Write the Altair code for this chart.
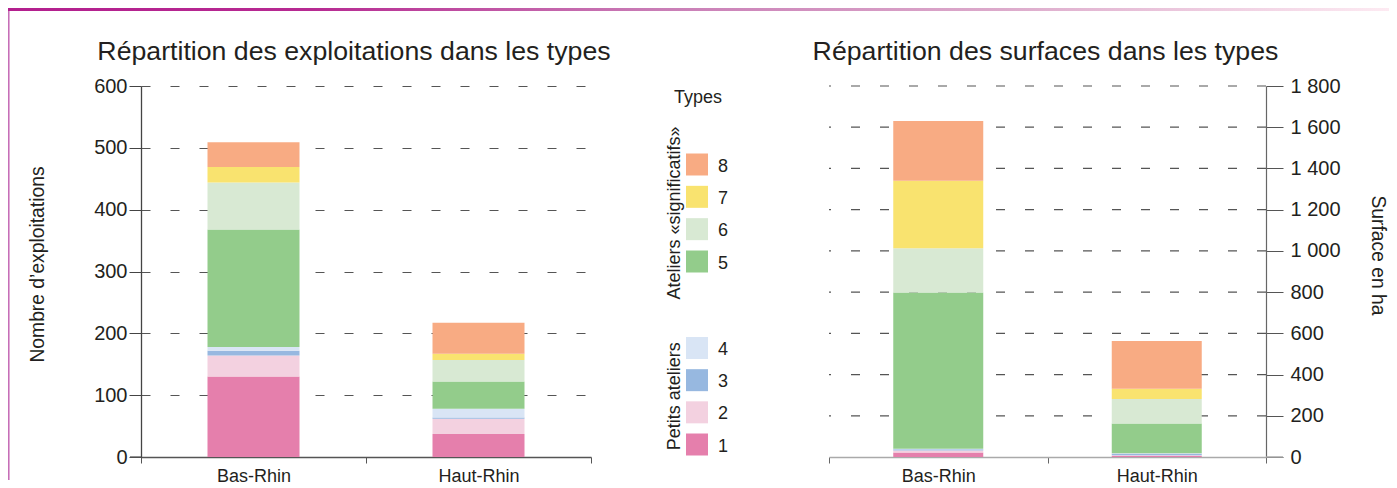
import altair as alt
import pandas as pd

# ---------------- data ----------------
regions = ["Bas-Rhin", "Haut-Rhin"]
types = ["1", "2", "3", "4", "5", "6", "7", "8"]
exploitations_bas = [130, 34, 8, 6, 190, 76, 25, 40]
exploitations_haut = [37, 25, 2, 14, 44, 35, 10, 50]
surfaces_bas = [22, 10, 5, 3, 758, 215, 327, 290]
surfaces_haut = [5, 3, 8, 2, 144, 119, 50, 232]
type_colors = ["#e57fac", "#f3d1e0", "#97b8e0", "#d9e5f5",
               "#93cc8b", "#d8e9d3", "#f9e36f", "#f8ab83"]
group_names = ["Ateliers «significatifs»", "Petits ateliers"]
group_members = [["5", "6", "7", "8"], ["1", "2", "3", "4"]]
legend_title = ["Types"]
title_left = "Répartition des exploitations dans les types"
title_right = "Répartition des surfaces dans les types"
ylabel_left = "Nombre d’exploitations"
ylabel_right = "Surface en ha"
ticks_left = [0, 100, 200, 300, 400, 500, 600]
ticks_right = [0, 200, 400, 600, 800, 1000, 1200, 1400, 1600, 1800]

rows = []
for reg, ex, su in [(regions[0], exploitations_bas, surfaces_bas),
                    (regions[1], exploitations_haut, surfaces_haut)]:
    for t, e, s in zip(types, ex, su):
        rows.append({"region": reg, "type": t, "rank": int(t),
                     "exploitations": e, "surface": s})
df = pd.DataFrame(rows)
legend_df = pd.DataFrame({"type": types, "rank": [int(t) for t in types]})
group_df = pd.DataFrame({
    "name": group_names,
    "mid": [sum(int(t) for t in g) / len(g) for g in group_members]})

FONT = "Liberation Sans"
TXT = "#231f20"
GRID = "#555555"

color_scale = alt.Scale(domain=types, range=type_colors)
x_scale = alt.Scale(domain=regions, paddingInner=0, paddingOuter=0)
deco = pd.DataFrame({"k": [0]})

# ---------------- left chart ----------------
left_bars = alt.Chart(df).mark_bar(size=92).encode(
    x=alt.X("region:N", sort=regions, scale=x_scale,
            axis=alt.Axis(title=None, labelAngle=0, tickBand="extent", tickSize=6,
                          labelPadding=4, labelFontSize=18, domainColor="#555555",
                          tickColor="#555555", domainWidth=1.3, grid=False)),
    y=alt.Y("exploitations:Q", stack="zero",
            scale=alt.Scale(domain=[0, 600], nice=False),
            axis=alt.Axis(values=ticks_left, title=ylabel_left, tickSize=12,
                          labelPadding=2, labelFontSize=20, domainColor="#444444",
                          tickColor="#444444", domainWidth=1.3, grid=True,
                          gridDash=[9, 20], gridColor=GRID, gridWidth=1.2,
                          titleFontSize=19.3, titlePadding=46, titleY=178,
                          titleFontWeight="normal")),
    color=alt.Color("type:N", scale=color_scale, legend=None),
    order=alt.Order("rank:Q", sort="ascending"),
)
left_axis_ext = alt.Chart(deco).mark_rule(color="#555555", strokeWidth=1.3).encode(
    x=alt.value(-11), x2=alt.value(0), y=alt.value(371))
left = alt.layer(left_bars, left_axis_ext).properties(
    width=450, height=371,
    title=alt.TitleParams(title_left, fontSize=26.7, fontWeight="normal", color=TXT,
                          font=FONT, dx=-12, offset=10, anchor="middle"))

# ---------------- legend (with page decoration) ----------------
banner = alt.Chart(deco).mark_rect(
    fill=alt.LinearGradient(
        gradient="linear",
        stops=[alt.GradientStop(color="#b31f8e", offset=0),
               alt.GradientStop(color="#b72a92", offset=0.22),
               alt.GradientStop(color="#c97db6", offset=0.47),
               alt.GradientStop(color="#dcaacb", offset=0.72),
               alt.GradientStop(color="#fdeaf2", offset=1)],
        x1=0, x2=1, y1=0, y2=0)
).encode(x=alt.value(-678), x2=alt.value(703), y=alt.value(-78), y2=alt.value(-75))
frame = alt.Chart(deco).mark_rule(color="#c467b4", strokeWidth=1.5).encode(
    x=alt.value(-677.2), y=alt.value(-75), y2=alt.value(394))

types_text = alt.Chart(pd.DataFrame({"t": legend_title})).mark_text(
    fontSize=18, align="center", baseline="middle", color=TXT, font=FONT
).encode(text="t:N", x=alt.value(12), y=alt.value(12))

# piecewise scale: the two groups of types are separated by a gap
legend_y = alt.Scale(domain=[1, 4, 5, 8], range=[358.5, 262, 175.5, 78.5],
                     zero=False, nice=False)
swatches = alt.Chart(legend_df).mark_square(size=484, opacity=1, filled=True).encode(
    y=alt.Y("rank:Q", scale=legend_y, axis=None),
    x=alt.value(11),
    color=alt.Color("type:N", scale=color_scale, legend=None))
sw_labels = alt.Chart(legend_df).mark_text(
    align="left", baseline="middle", fontSize=18, dy=2, color=TXT, font=FONT
).encode(y=alt.Y("rank:Q", scale=legend_y, axis=None), x=alt.value(32), text="type:N")
group_labels = alt.Chart(group_df).mark_text(
    angle=270, align="center", baseline="middle", fontSize=18, color=TXT, font=FONT
).encode(y=alt.Y("mid:Q", scale=legend_y, axis=None), x=alt.value(-11), text="name:N")

legend = alt.layer(banner, frame, types_text, swatches, sw_labels, group_labels
                   ).properties(width=48, height=371)

# ---------------- right chart ----------------
right_axis = alt.Axis(orient="right", values=ticks_right, title=ylabel_right,
                      labelExpr="replace(format(datum.value, ','), ',', ' ')",
                      tickSize=17, labelPadding=7, labelFontSize=20,
                      domainColor="#666666", tickColor="#555555", domainWidth=1.2,
                      grid=False, titleFontSize=19.3, titlePadding=27, titleY=169,
                      titleFontWeight="normal")
right_yscale = alt.Scale(domain=[0, 1800], nice=False)

right_grid = alt.Chart(pd.DataFrame({"surface": ticks_right[1:]})).mark_rule(
    strokeDash=[9, 20], color=GRID, strokeWidth=1.2
).encode(y=alt.Y("surface:Q", scale=right_yscale, axis=right_axis))

right_bars = alt.Chart(df).mark_bar(size=90).encode(
    x=alt.X("region:N", sort=regions, scale=x_scale,
            axis=alt.Axis(title=None, labelAngle=0, tickBand="extent", tickSize=6,
                          labelPadding=4, labelFontSize=18, domainColor="#aaaaaa",
                          tickColor="#666666", domainWidth=1.5, grid=False)),
    y=alt.Y("surface:Q", stack="zero", scale=right_yscale, axis=right_axis),
    color=alt.Color("type:N", scale=color_scale, legend=None),
    order=alt.Order("rank:Q", sort="ascending"),
)
right_axis_ext = alt.Chart(deco).mark_rule(color="#aaaaaa", strokeWidth=1.5).encode(
    x=alt.value(437), x2=alt.value(454), y=alt.value(371))

right = alt.layer(right_grid, right_bars, right_axis_ext).properties(
    width=437, height=371,
    title=alt.TitleParams(title_right, fontSize=26.7, fontWeight="normal", color=TXT,
                          font=FONT, dx=-2, offset=10, anchor="middle"))

chart = alt.hconcat(left, legend, right, spacing=95, bounds="flush").properties(
    padding=0
).configure(font=FONT).configure_view(stroke=None).configure_axis(
    labelFont=FONT, titleFont=FONT, labelColor=TXT, titleColor=TXT
).configure_title(font=FONT)

chart.save("out.html", embed_options={"renderer": "svg", "actions": False})
